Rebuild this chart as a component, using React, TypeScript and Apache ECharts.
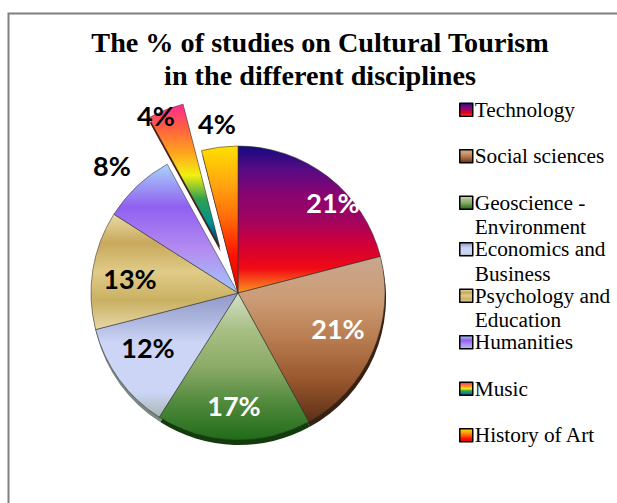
import React, { useEffect, useRef } from "react";
import * as echarts from "echarts";

const categories = [
  "Technology",
  "Social sciences",
  "Geoscience - Environment",
  "Economics and Business",
  "Psychology and Education",
  "Humanities",
  "Music",
  "History of Art",
];
const values = [21, 21, 17, 12, 13, 8, 4, 4];
const legendLines = [
  " \nTechnology\n ",
  " \nSocial sciences\n ",
  " \nGeoscience -\nEnvironment",
  " \nEconomics and\nBusiness",
  " \nPsychology and\nEducation",
  " \nHumanities\n ",
  " \nMusic\n ",
  " \nHistory of Art\n ",
];
const titleText = "The % of studies on Cultural Tourism\nin the different disciplines";

const gradients = [
  ["#140a80", "#5a0a84", "#8a0470", "#a00460", "#d00038", "#f00a14", "#ff9a20"],
  ["#c8a68e", "#cc9d76", "#b87c50", "#98562c", "#5c3018"],
  ["#d4e0c8", "#a8bf84", "#8cab68", "#50893c", "#206c18"],
  ["#9098c8", "#aab4dc", "#ccd5f6", "#ccd5f6", "#ccd5f6", "#a8b8b4"],
  ["#ead9a4", "#c8a95c", "#e0cb88", "#c9b062", "#e8d8a8"],
  ["#a8d4fa", "#9060f0", "#b48cf0", "#a0c8fa"],
  ["#ff2a94", "#ff6040", "#ffa020", "#f2f010", "#30a050", "#009090", "#002c70"],
  ["#ffe000", "#ffa810", "#ff6808", "#ff1000", "#e00800"],
];
const shadowColors = ["#40102a", "#3a2010", "#123c0c", "#788880", "#8a7a48", "#667090", "#501810", "#601008"];
const labelColors = ["#fff", "#fff", "#fff", "#000", "#000", "#000", "#000", "#000"];
const labelX = [333, 338, 234, 148, 130, 112, 156, 217];
const labelY = [202, 328, 405, 347, 278, 165, 115, 123];

const grad = (stops: string[]) => ({
  type: "linear",
  x: 0,
  y: 0,
  x2: 0,
  y2: 1,
  colorStops: stops.map((color, i) => ({ offset: i / (stops.length - 1), color })),
});

export default function App() {
  const ref = useRef<HTMLDivElement>(null);
  useEffect(() => {
    const chart = echarts.init(ref.current!, undefined, { renderer: "svg" });
    const common = {
      type: "pie",
      radius: [0, 147],
      startAngle: 90,
      clockwise: true,
      selectedMode: "multiple",
      selectedOffset: 50,
      minAngle: 0,
      avoidLabelOverlap: false,
      labelLine: { show: false },
      emphasis: { disabled: true },
      silent: true,
    };
    chart.setOption({
      animation: false,
      backgroundColor: "#fff",
      title: {
        text: titleText,
        left: 320,
        top: 26,
        textAlign: "center",
        padding: 0,
        textStyle: {
          fontFamily: "Liberation Serif",
          fontWeight: "bold",
          fontSize: 28.2,
          lineHeight: 33,
          color: "#000",
        },
      },
      legend: {
        orient: "vertical",
        left: 459,
        top: 73,
        padding: 0,
        itemGap: -27,
        itemWidth: 13,
        itemHeight: 13,
        icon: "rect",
        selectedMode: false,
        data: categories,
        formatter: (name: string) => legendLines[categories.indexOf(name)],
        itemStyle: { borderColor: "#000", borderWidth: 1.5 },
        textStyle: {
          fontFamily: "Liberation Serif",
          fontSize: 21.3,
          lineHeight: 24.5,
          color: "#000",
          padding: [0, 0, 0, -3],
        },
      },
      graphic: [
        {
          type: "polyline",
          silent: true,
          shape: { points: [[8.5, 503], [8.5, 13.5], [617, 13.5]] },
          style: { stroke: "#808080", lineWidth: 2, fill: "none" },
        },
      ],
      series: [
        {
          ...common,
          name: "studies",
          z: 3,
          center: [238, 293],
          itemStyle: { borderColor: "rgba(50,50,50,0.55)", borderWidth: 1 },
          label: { show: false },
          data: categories.map((name, i) => ({
            name,
            value: values[i],
            selected: name === "Music",
            itemStyle: { color: grad(gradients[i]) },
            select: { itemStyle: { color: grad(gradients[i]) } },
          })),
        },
        {
          ...common,
          name: "depth",
          z: 1,
          center: [239, 298],
          label: { show: false },
          data: categories.map((name, i) => ({
            name,
            value: values[i],
            selected: name === "Music",
            itemStyle: { color: shadowColors[i] },
          })),
        },
        {
          ...common,
          name: "labels",
          z: 4,
          center: [238, 293],
          selectedMode: false,
          itemStyle: { color: "transparent", borderWidth: 0 },
          label: {
            show: true,
            position: "inside",
            formatter: "{c}%",
            fontFamily: "Lato",
            fontWeight: "bold",
            fontSize: 27,
          },
          labelLayout: (p: any) => ({
            x: labelX[p.dataIndex],
            y: labelY[p.dataIndex],
            align: "center",
            verticalAlign: "middle",
          }),
          data: categories.map((name, i) => ({
            name,
            value: values[i],
            label: { color: labelColors[i] },
          })),
        },
      ],
    });
    return () => chart.dispose();
  }, []);
  return (
    <div
      ref={ref}
      style={{ position: "absolute", left: 0, top: 0, width: 617, height: 503 }}
    />
  );
}
